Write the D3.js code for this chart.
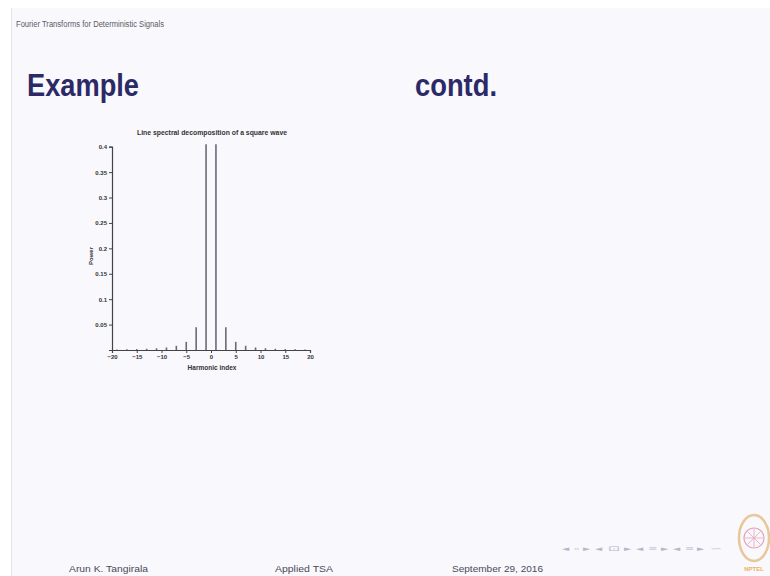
<!DOCTYPE html>
<html><head><meta charset="utf-8">
<script src="https://cdn.jsdelivr.net/npm/d3@7"></script>
<style>html,body{margin:0;padding:0;background:#fff;}svg{display:block;}</style>
</head><body>
<svg id="c" width="770" height="576"></svg>
<script>
// ---- data ----
const harmonicIndex = [-19,-17,-15,-13,-11,-9,-7,-5,-3,-1,1,3,5,7,9,11,13,15,17,19];
const power = [0.0011,0.0014,0.0018,0.0024,0.0034,0.005,0.0083,0.016,0.045,0.405,0.405,0.045,0.016,0.0083,0.005,0.0034,0.0024,0.0018,0.0014,0.0011];
const xTicks = [-20,-15,-10,-5,0,5,10,15,20];
const yTicks = [0.05,0.1,0.15,0.2,0.25,0.3,0.35,0.4];
const yTickLabels = ["0.05","0.1","0.15","0.2","0.25","0.3","0.35","0.4"];
const chartTitle = "Line spectral decomposition of a square wave";
const xLabel = "Harmonic index";
const yLabel = "Power";
const slideHeader = "Fourier Transforms for Deterministic Signals";
const footerTexts = ["Arun K. Tangirala","Applied TSA","September 29, 2016"];

const svg = d3.select("#c");
// slide background
svg.append("rect").attr("x",0).attr("y",0).attr("width",770).attr("height",576).attr("fill","#ffffff");
svg.append("rect").attr("x",11).attr("y",8).attr("width",759).attr("height",568).attr("fill","#f9f8fd");
svg.append("line").attr("x1",11.5).attr("x2",11.5).attr("y1",8).attr("y2",576).attr("stroke","#e4e3ea").attr("stroke-width",1);

const sans = "'Liberation Sans','Arial',sans-serif";
const narrow = "'Liberation Sans Narrow','Liberation Sans','Arial',sans-serif";

svg.append("text").attr("x",16).attr("y",27).text(slideHeader)
  .attr("font-family",narrow).attr("font-size",8.5).attr("fill","#5a5a62")
  .attr("textLength",148).attr("lengthAdjust","spacingAndGlyphs");

svg.append("text").attr("x",27).attr("y",96).text("Example")
  .attr("font-family",narrow).attr("font-weight","bold").attr("font-size",32).attr("fill","#2b2a66")
  .attr("textLength",112).attr("lengthAdjust","spacingAndGlyphs");
svg.append("text").attr("x",415).attr("y",96).text("contd.")
  .attr("font-family",narrow).attr("font-weight","bold").attr("font-size",32).attr("fill","#2b2a66")
  .attr("textLength",82).attr("lengthAdjust","spacingAndGlyphs");

// ---- chart ----
const x = d3.scaleLinear().domain([-20,20]).range([112,310]);
const y = d3.scaleLinear().domain([0,0.4]).range([350,146.7]);

const g = svg.append("g");
const xAxis = g.append("g").attr("transform","translate(0,350)")
  .call(d3.axisBottom(x).tickValues(xTicks).tickSize(3).tickPadding(2).tickFormat(d3.format("d")));
const yAxis = g.append("g").attr("transform","translate(112,0)")
  .call(d3.axisLeft(y).tickValues(yTicks).tickSize(3).tickPadding(2).tickFormat((d,i)=>yTickLabels[i]));
[xAxis,yAxis].forEach(a=>{
  a.select(".domain").attr("stroke","#444").attr("stroke-width",1.2);
  a.selectAll(".tick line").attr("stroke","#444").attr("stroke-width",1);
  a.selectAll(".tick text").attr("font-family",narrow).attr("font-size",6).attr("font-weight","bold").attr("fill","#333");
});

// stems
g.selectAll("line.stem").data(harmonicIndex).enter().append("line").attr("class","stem")
  .attr("x1",d=>x(d)).attr("x2",d=>x(d))
  .attr("y1",y(0)).attr("y2",(d,i)=>y(power[i]))
  .attr("stroke","#6a6a78").attr("stroke-width",1.6);

g.append("text").attr("x",212).attr("y",135).attr("text-anchor","middle").text(chartTitle)
  .attr("font-family",narrow).attr("font-size",7).attr("font-weight","bold").attr("fill","#333")
  .attr("textLength",150).attr("lengthAdjust","spacingAndGlyphs");
g.append("text").attr("x",212).attr("y",370).attr("text-anchor","middle").text(xLabel)
  .attr("font-family",narrow).attr("font-size",6.5).attr("font-weight","bold").attr("fill","#333");
g.append("text").attr("transform","translate(93,256) rotate(-90)").attr("text-anchor","middle").text(yLabel)
  .attr("font-family",narrow).attr("font-size",6).attr("font-weight","bold").attr("fill","#333");

// ---- footer ----
const fx = [69,275,452], fw = [79,58,91];
footerTexts.forEach((t,i)=>{
  svg.append("text").attr("x",fx[i]).attr("y",572).text(t)
    .attr("font-family",narrow).attr("font-size",9).attr("fill","#4a4a58")
    .attr("textLength",fw[i]).attr("lengthAdjust","spacingAndGlyphs");
});
svg.append("text").attr("x",562).attr("y",551).text("◂ ▫ ▸ ◂ ⊡ ▸ ◂ ≡ ▸ ◂ ≡ ▸   ∽")
  .attr("font-family",sans).attr("font-size",7).attr("fill","#b6b6cc")
  .attr("textLength",160).attr("lengthAdjust","spacingAndGlyphs");
// logo
const logo = svg.append("g");
logo.append("ellipse").attr("cx",754).attr("cy",538).attr("rx",15).attr("ry",23).attr("fill","none").attr("stroke","#e8c89a").attr("stroke-width",2.5);
logo.append("circle").attr("cx",754).attr("cy",538).attr("r",10).attr("fill","none").attr("stroke","#e6a4b8").attr("stroke-width",1.2);
[0,45,90,135].forEach(a=>{
  const r=a*Math.PI/180;
  logo.append("line").attr("x1",754-9*Math.cos(r)).attr("y1",538-9*Math.sin(r)).attr("x2",754+9*Math.cos(r)).attr("y2",538+9*Math.sin(r)).attr("stroke","#e6a4b8").attr("stroke-width",0.8);
});
svg.append("text").attr("x",754).attr("y",571).attr("text-anchor","middle").text("NPTEL")
  .attr("font-family",sans).attr("font-weight","bold").attr("font-size",6).attr("fill","#f0b060");
</script>
</body></html>
